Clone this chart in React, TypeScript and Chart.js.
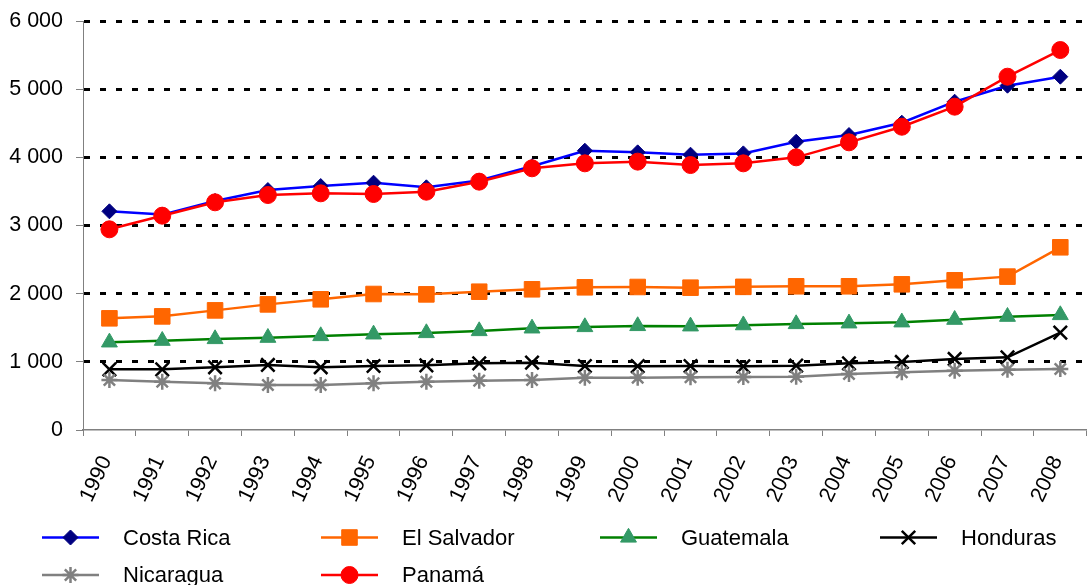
import React, { useEffect, useRef } from 'react';
import { Chart, registerables } from 'chart.js';
import { drawPoint } from 'chart.js/helpers';

Chart.register(...registerables);

const years = ['1990', '1991', '1992', '1993', '1994', '1995', '1996', '1997', '1998', '1999', '2000', '2001', '2002', '2003', '2004', '2005', '2006', '2007', '2008'];

const costaRica = [3208, 3160, 3360, 3520, 3579, 3628, 3560, 3660, 3870, 4097, 4073, 4039, 4058, 4229, 4327, 4508, 4816, 5051, 5183];
const elSalvador = [1638, 1667, 1755, 1843, 1917, 1995, 1990, 2029, 2064, 2093, 2098, 2088, 2100, 2108, 2108, 2137, 2196, 2250, 2680];
const guatemala = [1286, 1310, 1335, 1354, 1379, 1403, 1423, 1452, 1491, 1511, 1526, 1521, 1538, 1555, 1565, 1580, 1618, 1662, 1687];
const honduras = [890, 890, 920, 954, 920, 939, 949, 978, 988, 939, 936, 939, 934, 944, 978, 998, 1042, 1066, 1428];
const nicaragua = [733, 709, 684, 660, 660, 684, 709, 724, 733, 768, 768, 773, 776, 783, 822, 846, 871, 885, 895];
const panama = [2944, 3144, 3340, 3447, 3472, 3462, 3496, 3643, 3839, 3912, 3937, 3887, 3912, 4000, 4220, 4449, 4743, 5183, 5574];

const seriesNames = ['Costa Rica', 'El Salvador', 'Guatemala', 'Honduras', 'Nicaragua', 'Panamá'];
const seriesValues = [costaRica, elSalvador, guatemala, honduras, nicaragua, panama];
const lineColors = ['#0000FF', '#FF6600', '#008000', '#000000', '#808080', '#FF0000'];
const markerColors = ['#000080', '#FF6600', '#339966', '#000000', '#808080', '#FF0000'];
const markerStyles = ['rectRot', 'rect', 'triangle', 'crossRot', 'star', 'circle'];
const markerRadii = [7.5, 11, 9.2, 9.5, 8, 8.5];
const markerBorders = [1, 1, 1, 2.5, 2.5, 1];

const yMin = 0;
const yMax = 6000;
const yStep = 1000;

const FONT = '"Liberation Sans", Arial, Helvetica, sans-serif';

const fmt = (v: number) => String(v).replace(/\B(?=(\d{3})+(?!\d))/g, ' ');

const gridLegend = {
  id: 'gridLegend',
  afterDraw(chart: any) {
    const ctx = chart.ctx as CanvasRenderingContext2D;
    const colX = [42, 321, 600, 880];
    const rowY = [537.5, 575];
    chart.data.datasets.forEach((ds: any, i: number) => {
      const x = colX[i % 4];
      const y = rowY[Math.floor(i / 4)];
      ctx.save();
      ctx.strokeStyle = ds.borderColor;
      ctx.lineWidth = ds.borderWidth;
      ctx.beginPath();
      ctx.moveTo(x, y);
      ctx.lineTo(x + 57, y);
      ctx.stroke();
      ctx.fillStyle = ds.pointBackgroundColor;
      ctx.strokeStyle = ds.pointBorderColor;
      ctx.lineWidth = ds.pointBorderWidth;
      drawPoint(ctx, { pointStyle: ds.pointStyle, radius: ds.pointRadius, rotation: 0, borderWidth: ds.pointBorderWidth } as any, x + 28.5, y);
      ctx.fillStyle = '#000';
      ctx.font = '22px ' + FONT;
      ctx.textBaseline = 'middle';
      ctx.textAlign = 'left';
      ctx.fillText(ds.label, x + 81, y + 1);
      ctx.restore();
    });
  },
};

export default function App() {
  const ref = useRef<HTMLCanvasElement | null>(null);

  useEffect(() => {
    if (!ref.current) return;
    const datasets = seriesNames.map((name, i) => ({
      label: name,
      data: seriesValues[i],
      borderColor: lineColors[i],
      borderWidth: 2.5,
      backgroundColor: markerColors[i],
      pointStyle: markerStyles[i],
      pointRadius: markerRadii[i],
      pointBackgroundColor: markerColors[i],
      pointBorderColor: markerColors[i],
      pointBorderWidth: markerBorders[i],
      tension: 0,
      fill: false,
      order: seriesNames.length - 1 - i,
    }));

    const chart = new Chart(ref.current, {
      type: 'line',
      data: { labels: years, datasets },
      plugins: [gridLegend],
      options: {
        responsive: false,
        devicePixelRatio: 1,
        animation: false,
        layout: { padding: { top: 21, right: 4, left: 0, bottom: 0 } },
        plugins: {
          legend: { display: false },
          tooltip: { enabled: false },
        },
        scales: {
          x: {
            type: 'category',
            offset: true,
            grid: {
              offset: true,
              drawOnChartArea: false,
              drawTicks: true,
              tickLength: 6,
              color: '#808080',
              tickColor: '#808080',
              lineWidth: 1,
            },
            border: { color: '#808080', width: 1.5 },
            ticks: {
              autoSkip: false,
              minRotation: 65,
              maxRotation: 65,
              color: '#000',
              padding: 16,
              labelOffset: -3,
              font: { size: 21.5, family: FONT },
            },
            afterFit: (scale: any) => {
              scale.height = 155;
            },
          },
          y: {
            min: yMin,
            max: yMax,
            grid: {
              color: (c: any) => (c.tick && c.tick.value === 0 ? 'rgba(0,0,0,0)' : '#000000'),
              lineWidth: 3,
              drawTicks: true,
              tickLength: 7,
              tickColor: '#808080',
              tickWidth: 1,
            },
            border: { color: '#808080', width: 1, dash: [6, 10] },
            ticks: {
              stepSize: yStep,
              color: '#000',
              padding: 13,
              font: { size: 21.5, family: FONT },
              callback: (v: any) => fmt(Number(v)),
            },
            afterFit: (scale: any) => {
              scale.width = 83;
              scale.paddingTop = 0;
              scale.paddingBottom = 0;
            },
          },
        },
      } as any,
    });
    return () => chart.destroy();
  }, []);

  return (
    <div style={{ position: 'fixed', left: 0, top: 0, width: 1091, height: 585, overflow: 'hidden', background: '#fff' }}>
      <canvas ref={ref} width={1100} height={585} style={{ display: 'block', width: 1100, height: 585 }} />
    </div>
  );
}
